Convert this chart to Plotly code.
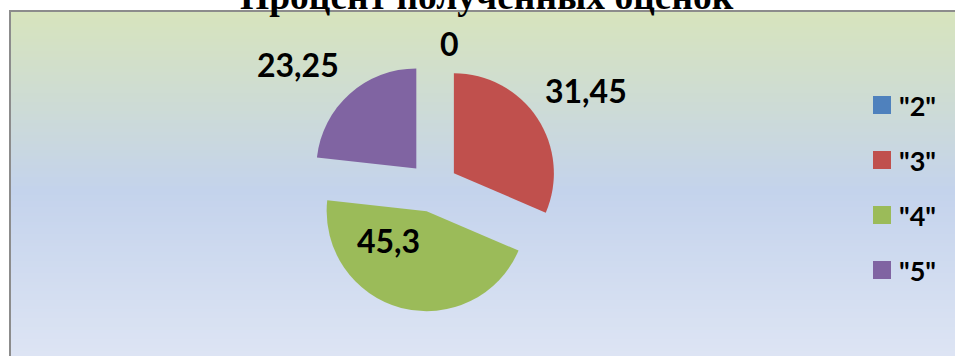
import math
import plotly.graph_objects as go

# Chart content
title_text = "Процент полученных оценок"
grades = ['"2"', '"3"', '"4"', '"5"']
percent = [0, 31.45, 45.3, 23.25]
colors = ["#4f81bd", "#c0504d", "#9bbb59", "#8064a2"]

# Value label placement relative to each slice: distance from the pie centre
# (in pie radii) and an angular nudge (degrees) from the slice's mid-angle
label_dist = [1.44, 1.81, 0.70, 1.82]
label_turn = [6.6, 1.0, 25.0, -5.9]

W, H = 955, 356
PULL = 0.25
DOMAIN_PX = dict(x0=308, x1=558, y0=62, y1=312)


def px_x(x):
    return x / W


def px_y(y):
    return 1 - y / H


def mix(c1, c2, t):
    return "rgb({},{},{})".format(*[round(a + (b - a) * t) for a, b in zip(c1, c2)])


fig = go.Figure()

fig.add_trace(go.Pie(
    labels=grades,
    values=percent,
    textinfo="none",
    marker=dict(colors=colors, line=dict(width=0)),
    pull=[PULL] * len(percent),
    sort=False,
    direction="clockwise",
    rotation=0,
    showlegend=False,
    automargin=False,
    hoverinfo="label+value",
    domain=dict(x=[px_x(DOMAIN_PX["x0"]), px_x(DOMAIN_PX["x1"])],
                y=[px_y(DOMAIN_PX["y1"]), px_y(DOMAIN_PX["y0"])]),
))

shapes = []

# Vertical gradient background of the chart area
top_c, mid_c, bot_c = (215, 228, 189), (196, 211, 236), (222, 229, 244)
y0, y1, mid_y = 12, 360, 190
step = 3
y = y0
while y < y1:
    if y < mid_y:
        col = mix(top_c, mid_c, (y - y0) / (mid_y - y0))
    else:
        col = mix(mid_c, bot_c, (y - mid_y) / (y1 - mid_y))
    shapes.append(dict(type="rect", xref="paper", yref="paper", layer="below",
                       x0=px_x(10), x1=px_x(960), y0=px_y(y), y1=px_y(y + step + 0.5),
                       fillcolor=col, line=dict(width=0)))
    y += step

# Chart area border
shapes.append(dict(type="rect", xref="paper", yref="paper", layer="below",
                   x0=px_x(10), x1=px_x(970), y0=px_y(370), y1=px_y(11),
                   fillcolor="rgba(0,0,0,0)", line=dict(color="#8c8c8c", width=2)))

annotations = [dict(
    text=title_text, xref="paper", yref="paper", x=px_x(487), y=px_y(-3.5),
    xanchor="center", yanchor="middle", showarrow=False,
    font=dict(family="Liberation Serif", size=37.5, color="black", weight="bold"),
)]

# Value labels (decimal comma) placed around the slices' mid-angles
cx = (DOMAIN_PX["x0"] + DOMAIN_PX["x1"]) / 2
cy = (DOMAIN_PX["y0"] + DOMAIN_PX["y1"]) / 2
radius = min(DOMAIN_PX["x1"] - DOMAIN_PX["x0"], DOMAIN_PX["y1"] - DOMAIN_PX["y0"]) / (2 + 2 * PULL)
total = sum(percent)
start = 0.0
for v, d, turn in zip(percent, label_dist, label_turn):
    mid = 360 * (start + v / 2) / total + turn
    start += v
    a = math.radians(mid)
    lx = cx + d * radius * math.sin(a)
    ly = cy - d * radius * math.cos(a)
    annotations.append(dict(
        text=f"{v:g}".replace(".", ","), xref="paper", yref="paper",
        x=px_x(lx), y=px_y(ly), xanchor="center", yanchor="middle", showarrow=False,
        font=dict(family="Lato", size=32, color="black", weight="bold"),
    ))

# Legend: colour squares with grade labels
legend_top, legend_gap, sq = 105, 55, 18
for i, (g, c) in enumerate(zip(grades, colors)):
    ly = legend_top + i * legend_gap
    shapes.append(dict(type="rect", xref="paper", yref="paper",
                       x0=px_x(873), x1=px_x(873 + sq), y0=px_y(ly + sq / 2), y1=px_y(ly - sq / 2),
                       fillcolor=c, line=dict(width=0)))
    annotations.append(dict(
        text=g, xref="paper", yref="paper", x=px_x(897), y=px_y(ly),
        xanchor="left", yanchor="middle", showarrow=False,
        font=dict(family="Lato", size=27, color="black", weight="bold"),
    ))

fig.update_layout(
    width=W, height=H,
    margin=dict(l=0, r=0, t=0, b=0, autoexpand=False),
    paper_bgcolor="white",
    plot_bgcolor="white",
    shapes=shapes,
    annotations=annotations,
)

fig.write_html("out.html")
